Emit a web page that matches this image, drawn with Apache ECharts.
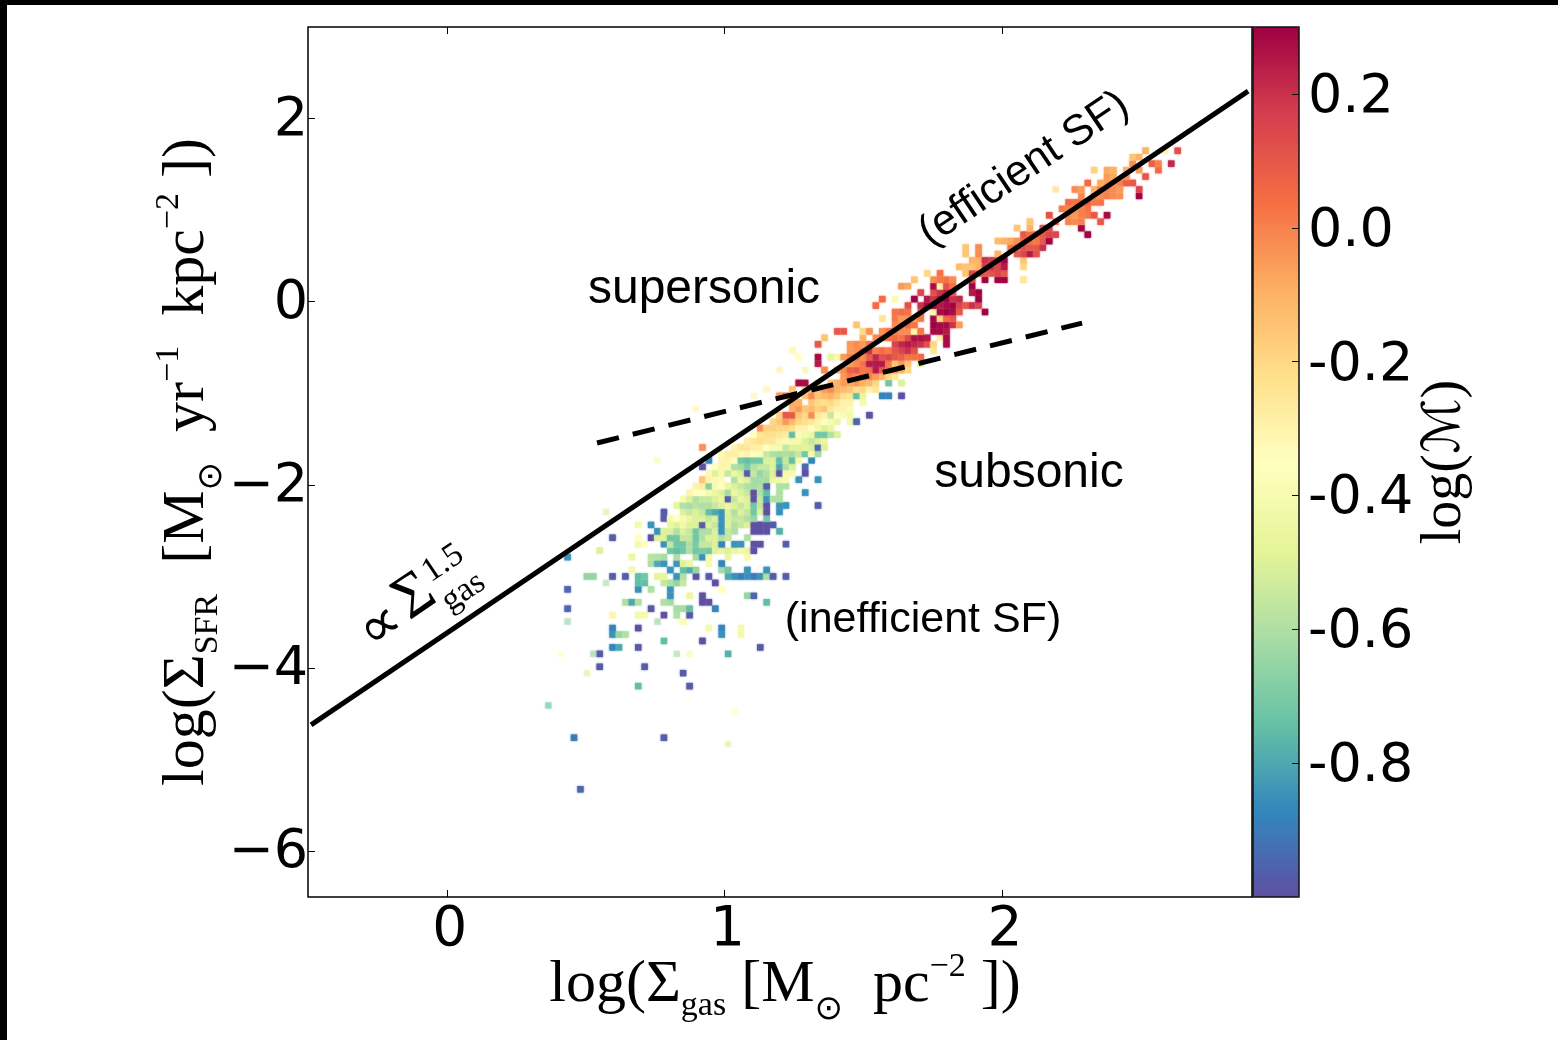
<!DOCTYPE html>
<html><head><meta charset="utf-8">
<style>html,body{margin:0;padding:0;background:#fff}#c{width:1558px;height:1040px}</style>
<script src="https://cdn.jsdelivr.net/npm/echarts@6/dist/echarts.min.js"></script>
</head><body><div id="c"></div>
<script>
const xTicks=[0,1,2];
const yTicks=[-6,-4,-2,0,2];
const barTicks=[-0.8,-0.6,-0.4,-0.2,0,0.2];
const xRange=[-0.5,2.9];
const yRange=[-6.5,3];
const barRange=[-1,0.3];
const spectral=['#5e4fa2','#3288bd','#66c2a5','#abdda4','#e6f598','#ffffbf','#fee08b','#fdae61','#f46d43','#d53e4f','#9e0142'];
// histogram bins: origin and width of the 100 x 100 grid
const binX0=0.3656, binW=0.02313, binY0=-5.324, binH=0.07043;
const powerLaw=[[-0.489,-4.62],[2.886,2.30]];
const flatLaw=[[0.541,-1.543],[2.288,-0.233]];
// rows: [row, col, logM, col, logM, ...]
const lowRows=[
[0,5,-.95],[8,4,-.9,18,-.97],[16,14,-.75,22,-.98],[18,21,-.98],[19,8,-.98,15,-.98],[21,8,-.98,28,-.78],
[22,10,-.88,11,-.8,14,-.98,33,-.98],[23,18,-.75,24,-1],[24,10,-.85,11,-.65,12,-.6,27,-.85,30,-.42],
[25,10,-.88,14,-1,25,-.42,27,-.88,30,-.42],[26,21,-.38],[27,10,-.3,14,-.42,15,-.42,18,-1,20,-.6,22,-.98],
[28,3,-.95,16,-.98,20,-.62,21,-.62,22,-.75,26,-.88],[29,12,-.6,13,-.8,14,-.6,18,-.6,19,-.62,24,-1,25,-1,34,-.75],
[30,19,-.85,22,-.45,24,-1,31,-.65,32,-.95],[31,3,-.95,14,-.85,16,-.6,19,-.85,27,-.35],
[32,14,-.75,15,-.75,18,-.55,19,-.6,20,-.65,21,-.55,26,-1],
[33,6,-.65,7,-.65,10,-.97,12,-.97,14,-.75,15,-.72,17,-.48,18,-.48,20,-.85,21,-.6,23,-1,25,-.98,28,-.8,29,-.85,30,-.9,31,-.85,32,-.9,33,-.85,34,-.6,35,-.97,37,-.97],
[34,13,-.42,19,-.85,21,-.75,22,-.8,23,-.65,27,-.62,28,-.72,31,-.85,34,-.85],
[35,16,-.6,17,-.8,18,-.85,20,-.85,21,-.5,22,-.45,25,-.4,27,-.88],
[36,3,-.85,13,-.45,16,-.58,17,-.6,18,-.62,20,-.6,23,-.62,24,-.85,25,-.4,28,-.45,31,-.4],
[37,8,-.5,19,-.72,20,-.75,21,-.72,22,-.6,23,-.72,24,-.7,25,-.72,26,-.5,27,-.45,28,-.5,29,-.45,30,-.42,31,-.45,32,-1],
[38,14,-.42,15,-.35,18,-.85,19,-.55,20,-.72,21,-.72,22,-.6,23,-.7,24,-.55,25,-.55,26,-.5,27,-.88,29,-.85,30,-.85,32,-1,33,-1,37,-.97]
];
const midRows=[
[39,10,-.97,14,-.35,16,-1,17,-.5,18,-.5,19,-.72,20,-.72,21,-.55,22,-.55,23,-.72,24,-.6,25,-.5,26,-.5,27,-.6,28,-.55,31,-.6],
[40,17,-.85,18,-.5,19,-.5,20,-.6,21,-.5,22,-.55,23,-.72,24,-.6,25,-.6,26,-.5,27,-.85,28,-.55,29,-.6,32,-1,33,-1,34,-1,36,-.78],
[41,14,-.42,16,-.85,19,-.45,20,-.5,21,-.42,22,-.5,23,-.5,24,-.97,25,-.5,26,-.55,27,-.85,28,-.5,29,-.6,30,-.55,31,-.5,32,-1,33,-1,34,-1,35,-.97],
[42,18,-.97,19,-.4,20,-.35,21,-.4,22,-.45,23,-.5,24,-.5,25,-.55,26,-.5,27,-.85,28,-.5,29,-.55,30,-.55,31,-.6,32,-.65,34,-.72],
[43,18,-.97,21,-.5,22,-.55,23,-.5,24,-.55,25,-.75,26,-.8,27,-.85,28,-.5,29,-.6,30,-.5,31,-.55,32,-.72,33,-.5,34,-1,36,-.85],
[44,20,-.48,21,-.6,22,-.62,23,-.58,24,-.6,25,-.6,26,-.55,27,-.5,28,-.45,29,-.5,30,-.55,31,-.5,32,-.72,33,-.55,34,-1,36,-.85,37,-.85,42,-.97],
[45,21,-.4,22,-.5,23,-.6,24,-.55,25,-.55,26,-.5,27,-.45,28,-.97,29,-.55,30,-.45,31,-.5,32,-1,33,-.55,34,-.85,35,-.6,36,-.6],
[46,22,-.3,23,-.35,24,-.35,25,-.4,26,-.45,27,-.5,28,-.62,29,-.45,30,-.5,31,-.55,32,-1,33,-.6,34,-.75,36,-.6,40,-.85],
[47,23,-.3,24,-.28,25,-.68,26,-.4,27,-.35,28,-.45,29,-.5,30,-.55,31,-.6,32,-.62,33,-.6,34,-.97,36,-.6,37,-.6],
[48,24,-.15,25,-.3,26,-.32,27,-.38,29,-.6,30,-.45,31,-.5,32,-.62,33,-.62,34,-.62,35,-.45,36,-.42,37,-.4,39,-.85,42,-.85],
[49,25,-.32,26,-.5,27,-.4,28,-.55,29,-.45,30,-.5,31,-.97,32,-.55,33,-.65,34,-.6,35,-.5,36,-1,37,-.4,38,-.4,40,-1],
[50,24,-1,26,-.35,27,-.3,28,-.4,29,-.6,30,-.62,31,-.7,32,-.6,33,-.55,34,-.55,35,-.5,36,-.8,37,-.6,38,-.5,40,-.95],
[51,25,-.88,27,-.3,28,-.3,29,-.35,30,-.72,31,-.75,32,-.72,33,-.72,34,-.5,35,-.5,36,-.75,37,-.55,38,-.75,39,-.42,41,-.88],
[52,27,-.32,28,-.28,29,-.28,30,-.32,31,-.3,32,-.35,33,-.38,34,-.55,35,-.6,36,-.62,37,-.6,38,-.62,39,-.55,40,-.72,41,-.4,42,-.62],
[53,24,-.03,29,-.3,30,-.25,31,-.25,32,-.28,33,-.3,34,-.35,35,-.4,36,-.42,37,-.55,38,-.5,39,-.5,40,-.48,41,-.5,42,-.95,43,-.5],
[54,31,-.28,32,-.25,33,-.22,34,-.25,35,-.25,36,-.3,37,-.38,38,-.4,39,-.42,40,-.5,41,-.55,42,-.5,43,-.45],
[55,32,-.35,33,-.25,34,-.22,35,-.22,36,-.25,37,-.28,38,-.75,39,-.38,40,-.4,41,-.45,42,-.72,43,-.72,44,-.6,45,-.5],
[56,33,-.03,34,-.18,35,-.18,36,-.2,37,-.2,38,-.22,39,-.3,40,-.3,41,-.35,42,-.42,43,-.5,44,-.45],
[57,35,-.2,36,-.15,37,-.05,38,-.12,39,-.2,40,-.22,41,-.25,42,-.3,43,-.35,44,-.4,45,-.45,47,-.42,48,-.95],
[58,36,-.18,37,.1,38,.1,39,-.15,40,-.2,41,-.02,42,-.25,43,-.3,44,-.55,45,-.35,46,-.38,47,-.42,50,-1],
[59,38,-.1,39,-.05,40,-.15,41,-.12,42,-.18,43,-.15,44,-.25,45,-.3,46,-.3,47,-.38],
[60,38,-.08,39,-.1,41,-.15,42,-.2,43,-.22,44,-.2,45,-.25,46,-.3,47,-.3,49,-.4],
[61,36,-.05,37,.05,40,-.15,41,-.02,42,-.15,43,-.12,44,-.1,45,-.15,46,-.22,47,-.25,48,-.75,49,-.45,52,-.88,53,-.88,55,-1],
[62,38,-.15,40,-.2,41,-.1,42,-.12,43,-.05,44,-.02,45,-.1,46,-.12,47,-.15,48,-.22,49,-.2,50,-.3,51,-.25],
[63,39,.28,40,.28,42,-.2,44,-.15,45,-.1,46,-.05,47,-.08,48,-.05,49,-.1,50,-.12,51,-.2,53,-.72,55,-.5]
];
const highRows=[
[64,46,-.05,47,.02,48,-.02,49,.03,50,0,51,-.05,52,-.1,53,-.2,54,-.25],
[65,43,-.02,45,-.1,46,-.02,47,.08,48,.1,49,.02,50,.03,51,.25,52,.1,53,.03,54,-.03,55,-.1,56,-.2],
[66,42,.25,47,-.05,48,-.02,49,.03,50,.25,51,.25,52,.25,53,.02,54,-.15,55,-.05,56,-.15,58,-.5],
[67,39,-.35,42,.28,44,-.48,45,-.4,46,-.05,47,0,48,.05,49,-.02,50,.08,51,.22,52,.12,53,.15,54,.1,55,.08,56,.02,57,.03,58,.05],
[68,38,-.33,47,-.05,48,-.03,49,.02,50,.2,51,0,52,.05,53,.02,54,.1,55,.15,56,.2,57,.12,60,-.25],
[69,42,.1,47,-.05,48,-.02,49,-.05,50,.02,54,.15,55,.22,56,.25,57,.22,58,.2,59,.12,60,-.2,62,.28],
[70,43,-.15,49,-.1,51,-.02,52,.03,53,.03,54,.05,55,.03,56,.15,57,.27,58,.27,59,.25,61,-.3,62,.28],
[71,45,.1,46,.1,49,-.2,50,-.03,52,-.03,53,.02,54,.02,55,-.02,56,-.02,57,-.3,58,.02,60,.28,61,.28,62,.25],
[72,48,-.15,54,-.02,55,-.02,56,.05,57,.03,60,.3,61,.28,62,.28,63,.2,64,-.05],
[73,52,-.25,54,.02,55,-.05,56,-.03,57,-.05,58,.02,60,.3,61,-.2,62,.05,63,.1],
[74,54,.03,55,.05,56,.03,58,.05,60,-.3,61,.28,62,.3,63,.28,64,.1,68,.3],
[75,51,.05,56,.12,58,.2,59,.28,60,.3,61,.25,62,.28,63,.3,64,.15,65,.1,66,.2,67,.15],
[76,52,.05,54,-.32,57,.3,59,.25,60,.2,61,.28,62,.3,63,.2,64,.22,67,.3],
[77,58,.15,60,.12,61,.2,62,.25,63,.1,66,.25,67,.3],
[78,55,-.05,56,-.08,60,.28,61,-.3,62,.12,63,.03,66,.3],
[79,57,-.15,60,-.02,61,.02,62,.03,63,-.02,66,.15,68,.3,70,.3,71,.3,74,-.25],
[80,59,-.2,61,.03,65,-.15,66,.15,67,.12,68,.1,69,.12,70,.15,71,.1],
[81,64,-.12,65,-.15,66,-.15,67,-.1,68,.18,69,.2,70,.15,71,.25,74,-.2],
[82,66,-.1,67,-.1,68,.2,69,.18,70,.2,71,.3,74,-.15],
[83,65,-.15,67,-.02,70,-.1,73,.1,74,.15,75,.25,76,.12],
[84,65,-.15,67,-.02,72,.03,73,.08,74,.12,75,.1,76,.1,77,.2],
[85,70,-.12,71,-.1,72,-.08,73,-.03,74,.05,75,.05,76,.02,77,.1,78,.3],
[86,74,.1,75,.05,76,.08,77,.1,78,.15,79,.15,84,.3],
[87,73,-.15,75,-.1,77,.12,78,.15,83,.3],
[88,75,-.15,79,.05,81,0,82,-.02,83,0,86,.1],
[89,78,.12,81,-.02,82,-.05,83,0,84,.02,85,.1,87,.28],
[90,80,.02,81,0,82,-.03,83,0,84,.03],
[91,81,.05,82,.03,83,.05,84,.08,85,.02,86,.03],
[92,83,-.02,85,0,86,-.02,87,0,88,-.02,89,-.03,92,.3],
[93,82,-.02,83,-.05,85,-.1,86,.02,87,0,88,-.02,89,-.05,92,.15],
[94,84,.05,86,-.08,87,-.05,88,-.03,89,0,90,.08,91,.1],
[95,87,-.05,88,-.08,90,-.03,93,.1],
[96,85,-.18,87,-.08,88,-.1,90,-.1,92,-.05,95,.05],
[97,91,-.02,94,.08,95,0,97,.22],
[98,91,-.15,92,-.1],
[99,93,-.1,96,-.3,98,.12]
];
// faint cells: [row, col, logM]
const faintCells=[[7,28,-.5],[12,29,-.35],[13,0,-.75],[18,6,-.5],[21,2,-.35],[21,7,-.65],[21,20,-.62],[21,22,-.4],[26,3,-.65],[26,17,-.65],[32,9,-.62],[43,9,-.5],[51,17,-.4],[59,23,-.3],[61,32,-.3],[62,34,-.3],[65,36,-.28],[65,40,-.45],[93,79,-.2]];

const cells=[];
[lowRows,midRows,highRows].forEach(rows=>rows.forEach(r=>{
  for(let i=1;i<r.length;i+=2) cells.push([binX0+r[i]*binW,binY0+r[0]*binH,r[i+1],0.95]);
}));
faintCells.forEach(c=>cells.push([binX0+c[1]*binW,binY0+c[0]*binH,c[2],0.42]));

const serif='"Liberation Serif"', sans='"Liberation Sans"', deja='"DejaVu Sans"';
const titleRich={
  m:{fontFamily:serif,fontSize:60,lineHeight:100,color:'#000'},
  sub:{fontFamily:serif,fontSize:34,height:58,verticalAlign:'bottom',color:'#000'},
  sup:{fontFamily:serif,fontSize:34,height:64,verticalAlign:'top',color:'#000'},
  sun:{fontFamily:deja,fontSize:34,height:50,verticalAlign:'bottom',color:'#000'}
};
const chart=echarts.init(document.getElementById('c'),null,{renderer:'canvas'});
const annotation=(text,cx,cy,size,deg)=>({type:'text',x:cx,y:cy,rotation:deg*Math.PI/180,z:20,silent:true,
  style:{text,fontFamily:sans,fontSize:size,fill:'#000',align:'center',verticalAlign:'middle'}});
const lawPart=(text,dx,dy,font,size)=>({type:'text',x:dx,y:dy,silent:true,
  style:{text,fontFamily:font,fontSize:size,fill:'#000',align:'center',verticalAlign:'middle'}});
chart.setOption({
  animation:false,
  backgroundColor:'#fff',
  grid:[
    {left:308,top:27,width:944,height:870,outerBoundsMode:'none',show:true,borderColor:'#000',borderWidth:1.5,backgroundColor:'#fff'},
    {left:1253,top:27,width:46,height:870,outerBoundsMode:'none',show:true,borderColor:'#111',borderWidth:1.5,backgroundColor:'transparent',z:5}
  ],
  xAxis:[
    {type:'value',gridIndex:0,min:xRange[0],max:xRange[1],position:'bottom',splitLine:{show:false},
     axisLine:{show:false,onZero:false},
     axisTick:{show:true,inside:true,length:7,lineStyle:{color:'#000',width:1},customValues:xTicks},
     axisLabel:{show:true,customValues:xTicks,fontFamily:deja,fontSize:55,color:'#000',margin:6,padding:[0,0,0,6],formatter:v=>String(v)},
     name:'{m|log(Σ}{sub|gas}{m| [M}{sun|⊙}{m|  pc}{sup|−2}{m| ])}',nameLocation:'middle',nameGap:38,nameMoveOverlap:false,
     nameTextStyle:{rich:titleRich,padding:[0,0,0,10]}},
    {type:'value',gridIndex:0,min:xRange[0],max:xRange[1],position:'top',splitLine:{show:false},axisLine:{show:false,onZero:false},
     axisTick:{show:true,inside:true,length:7,lineStyle:{color:'#000',width:1},customValues:xTicks},axisLabel:{show:false}},
    {type:'value',gridIndex:1,min:0,max:1,show:false}
  ],
  yAxis:[
    {type:'value',gridIndex:0,min:yRange[0],max:yRange[1],splitLine:{show:false},axisLine:{show:false,onZero:false},
     axisTick:{show:true,inside:true,length:7,lineStyle:{color:'#000',width:1},customValues:yTicks},
     axisLabel:{show:true,customValues:yTicks,color:'#000',margin:0,
       formatter:v=>'{l|'+String(v).replace('-','\u2212')+'}',
       rich:{l:{fontFamily:deja,fontSize:54,height:54,lineHeight:58,verticalAlign:'bottom',color:'#000'}}},
     name:'{m|log(Σ}{sub|SFR}{m|  [M}{sun|⊙}{m|  yr}{sup|−1}{m|  kpc}{sup|−2}{m| ])}',nameLocation:'middle',nameGap:71,nameRotate:90,nameMoveOverlap:false,
     nameTextStyle:{rich:titleRich}},
    {type:'value',gridIndex:1,min:barRange[0],max:barRange[1],position:'right',z:10,splitLine:{show:false},axisLine:{show:false,onZero:false},
     axisTick:{show:true,inside:true,length:7,lineStyle:{color:'#111',width:1},customValues:barTicks},
     axisLabel:{show:true,customValues:barTicks,color:'#000',margin:9,
       formatter:v=>'{l|'+v.toFixed(1)+'}',
       rich:{l:{fontFamily:deja,fontSize:54,height:54,lineHeight:62,verticalAlign:'bottom',color:'#000'}}},
     name:'{m|log(}{cal|ℳ}{m|)}',nameLocation:'middle',nameGap:118,nameRotate:90,
     nameTextStyle:{rich:{m:{fontFamily:serif,fontSize:56,color:'#000'},cal:{fontFamily:deja,fontSize:52,color:'#000'}}}}
  ],
  visualMap:[{type:'continuous',seriesIndex:0,dimension:2,min:barRange[0],max:barRange[1],calculable:false,hoverLink:false,
    left:1253,top:27,padding:0,itemWidth:46,itemHeight:870,borderWidth:0,textStyle:{fontSize:0,color:'transparent'},
    inRange:{color:spectral},z:1}],
  graphic:[
    {type:'rect',x:0,y:0,shape:{width:1558,height:5},style:{fill:'#000'},silent:true,z:30},
    {type:'rect',x:0,y:0,shape:{width:7,height:1040},style:{fill:'#000'},silent:true,z:30},
    annotation('supersonic',704,290,48,0),
    annotation('subsonic',1029,474,48,0),
    annotation('(inefficient SF)',923,620,43,0),
    annotation('(efficient SF)',1024,169,43,34),
    {type:'group',x:415,y:597,rotation:34*Math.PI/180,z:20,silent:true,children:[
      lawPart('∝',-45,7,deja,58),
      lawPart('Σ',0,0,serif,62),
      lawPart('1.5',42,-12,serif,34),
      lawPart('gas',43,23,serif,34)
    ]}
  ],
  series:[
    {type:'custom',xAxisIndex:0,yAxisIndex:0,coordinateSystem:'cartesian2d',data:cells,silent:true,z:2,clip:true,
     encode:{x:0,y:1},
     renderItem:(params,api)=>{
       const p=api.coord([api.value(0),api.value(1)]);
       const s=api.size([binW,binH]);
       const col=api.visual('color');
       return {type:'rect',shape:{x:p[0]-s[0]/2,y:p[1]-s[1]/2,width:s[0],height:s[1]},
         style:{fill:col,opacity:api.value(3),shadowBlur:2,shadowColor:col}};
     }},
    {type:'line',xAxisIndex:0,yAxisIndex:0,data:powerLaw,symbol:'none',silent:true,z:6,
     lineStyle:{color:'#000',width:5,cap:'butt'}},
    {type:'line',xAxisIndex:0,yAxisIndex:0,data:flatLaw,symbol:'none',silent:true,z:6,
     lineStyle:{color:'#000',width:5,type:[22.5,14.3],cap:'butt'}}
  ]
});
</script></body></html>
